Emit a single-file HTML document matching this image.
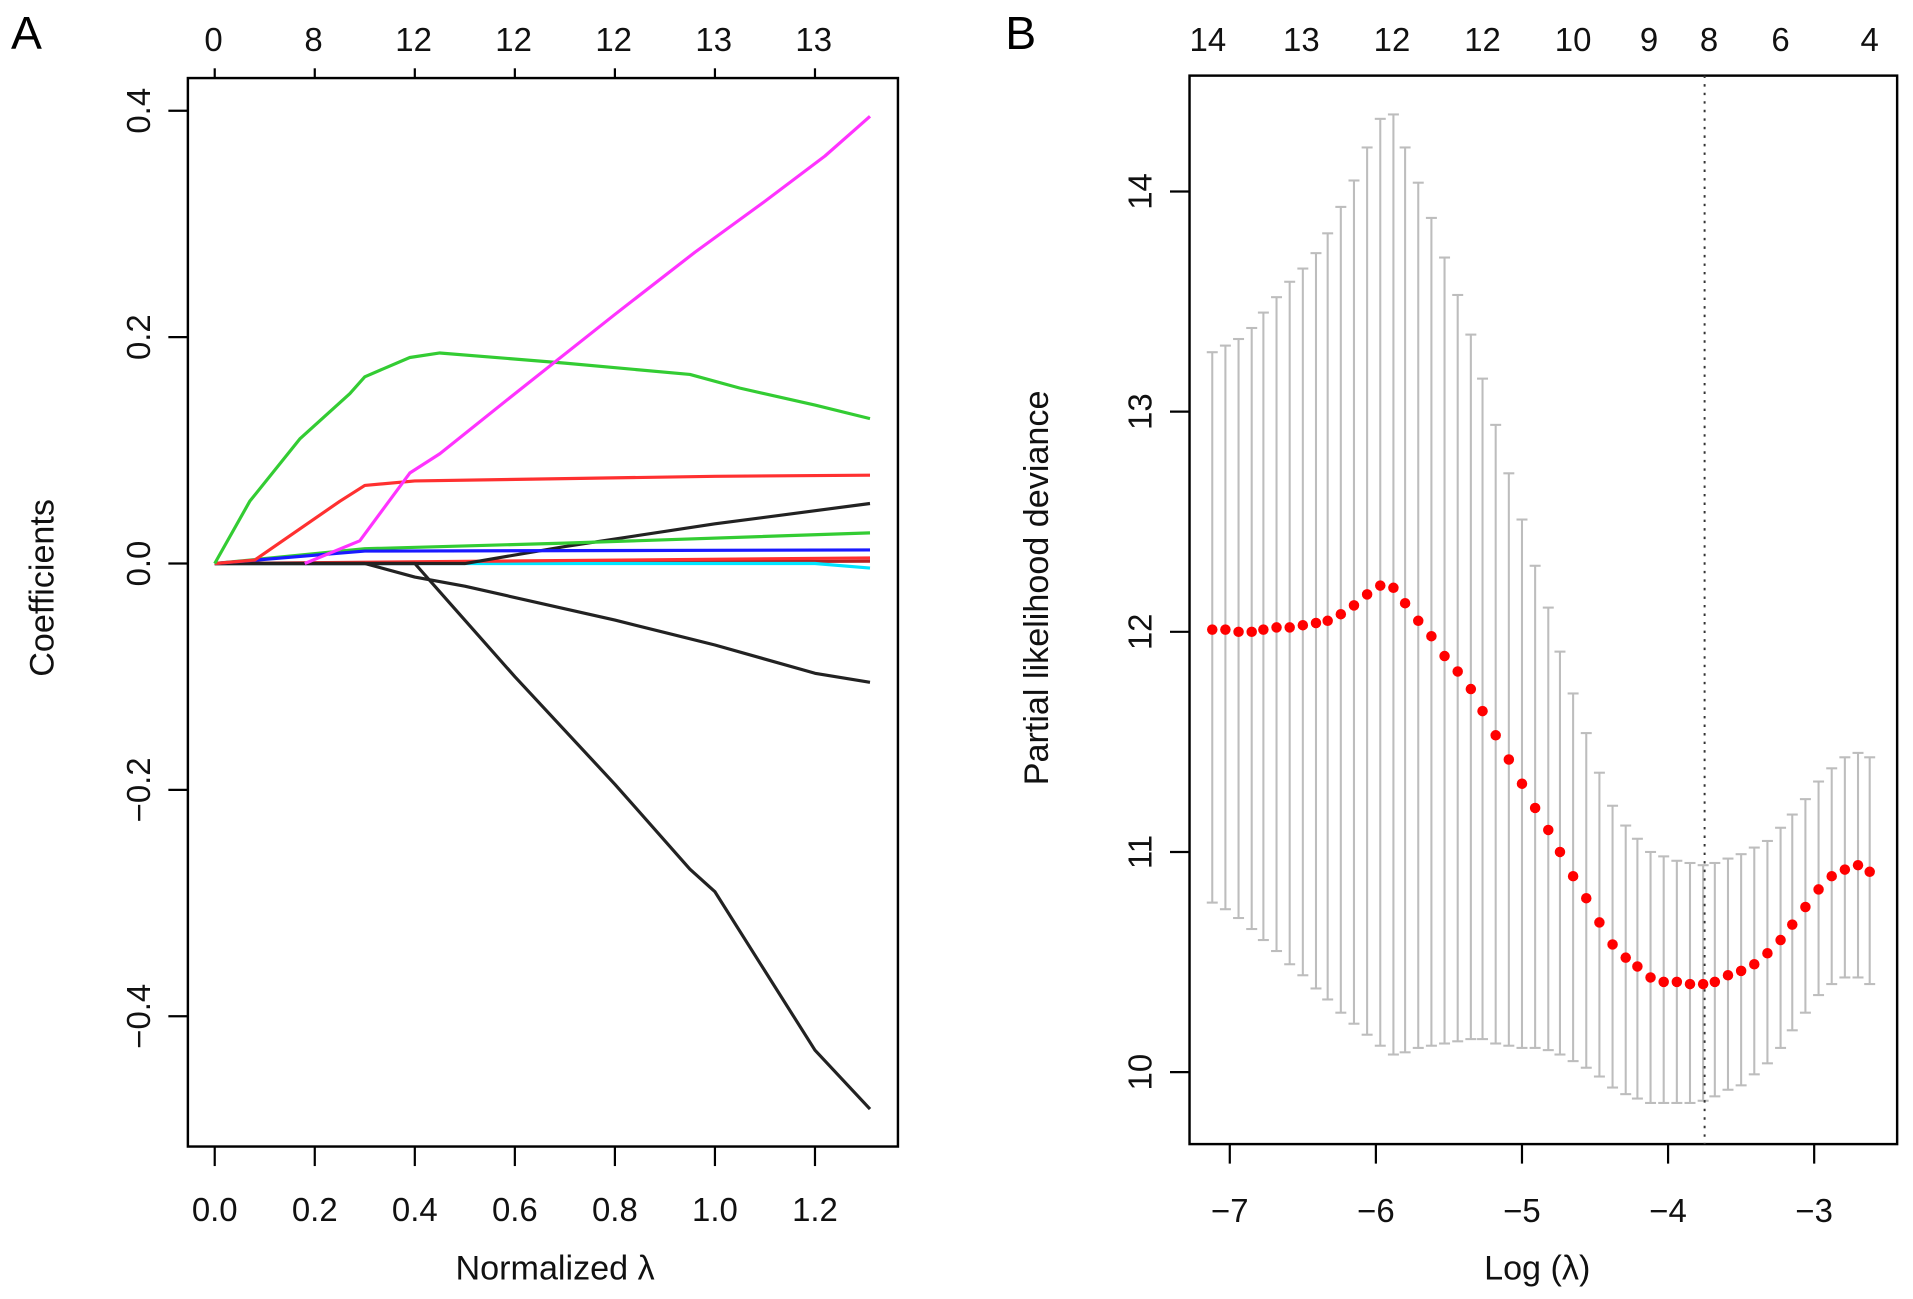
<!DOCTYPE html>
<html><head><meta charset="utf-8"><style>
html,body{margin:0;padding:0;background:#fff;}
svg{display:block;font-family:"Liberation Sans",Arial,sans-serif;}
</style></head><body>
<svg id="fig" width="1913" height="1299" viewBox="0 0 1568 1065" preserveAspectRatio="none" xmlns="http://www.w3.org/2000/svg">
<rect width="1568" height="1065" fill="#fff"/>
<g id="pa"></g>
<g id="pb"></g>
</svg>
<script>
// ---------- Panel A data ----------
const aXTicks = [0, 0.2, 0.4, 0.6, 0.8, 1.0, 1.2];
const aXTickLabels = ["0.0","0.2","0.4","0.6","0.8","1.0","1.2"];
const aTopLabels = ["0","8","12","12","12","13","13"];
const aYTicks = [0.4, 0.2, 0.0, -0.2, -0.4];
const aYTickLabels = ["0.4","0.2","0.0","\u22120.2","\u22120.4"];
const seriesMagenta = [[0.18,0],[0.29,0.02],[0.39,0.08],[0.45,0.097],[0.6,0.15],[0.8,0.22],[0.96,0.275],[1.1,0.32],[1.22,0.36],[1.31,0.395]];
const seriesGreen1 = [[0,0],[0.07,0.055],[0.17,0.11],[0.27,0.15],[0.3,0.165],[0.39,0.182],[0.45,0.186],[0.7,0.177],[0.95,0.167],[1.05,0.155],[1.2,0.14],[1.31,0.128]];
const seriesRed1 = [[0,0],[0.08,0.003],[0.25,0.055],[0.3,0.069],[0.4,0.073],[0.7,0.075],[1.0,0.077],[1.31,0.078]];
const seriesBlackUp = [[0,0],[0.5,0],[0.7,0.015],[1.0,0.035],[1.31,0.053]];
const seriesGreen2 = [[0,0],[0.3,0.013],[0.7,0.018],[1.31,0.027]];
const seriesBlue = [[0,0],[0.3,0.011],[1.31,0.012]];
const seriesRed2 = [[0,0],[1.31,0.005]];
const seriesDarkRed = [[0,0],[1.31,0.002]];
const seriesCyan = [[0,0],[1.2,0],[1.31,-0.004]];
const seriesBlackDown1 = [[0,0],[0.3,0],[0.4,-0.012],[0.5,-0.02],[0.8,-0.05],[1.0,-0.072],[1.2,-0.097],[1.31,-0.105]];
const seriesBlackDown2 = [[0,0],[0.4,0],[0.47,-0.035],[0.6,-0.1],[0.8,-0.195],[0.95,-0.27],[1.0,-0.29],[1.1,-0.36],[1.2,-0.43],[1.31,-0.482]];

// ---------- Panel B data ----------
const bLogLambda = [-7.12,-7.03,-6.94,-6.85,-6.77,-6.68,-6.59,-6.50,-6.41,-6.33,-6.24,-6.15,-6.06,-5.97,-5.88,-5.80,-5.71,-5.62,-5.53,-5.44,-5.35,-5.27,-5.18,-5.09,-5.00,-4.91,-4.82,-4.74,-4.65,-4.56,-4.47,-4.38,-4.29,-4.21,-4.12,-4.03,-3.94,-3.85,-3.76,-3.68,-3.59,-3.50,-3.41,-3.32,-3.23,-3.15,-3.06,-2.97,-2.88,-2.79,-2.70,-2.62];
const bMean = [12.01,12.01,12.00,12.00,12.01,12.02,12.02,12.03,12.04,12.05,12.08,12.12,12.17,12.21,12.20,12.13,12.05,11.98,11.89,11.82,11.74,11.64,11.53,11.42,11.31,11.20,11.10,11.00,10.89,10.79,10.68,10.58,10.52,10.48,10.43,10.41,10.41,10.40,10.40,10.41,10.44,10.46,10.49,10.54,10.60,10.67,10.75,10.83,10.89,10.92,10.94,10.91];
const bUpper = [13.27,13.30,13.33,13.38,13.45,13.52,13.59,13.65,13.72,13.81,13.93,14.05,14.20,14.33,14.35,14.20,14.04,13.88,13.70,13.53,13.35,13.15,12.94,12.72,12.51,12.30,12.11,11.91,11.72,11.54,11.36,11.21,11.12,11.06,11.00,10.98,10.96,10.95,10.94,10.95,10.97,10.99,11.02,11.05,11.11,11.17,11.24,11.32,11.38,11.43,11.45,11.43];
const bLower = [10.77,10.74,10.70,10.65,10.60,10.55,10.49,10.44,10.38,10.33,10.27,10.22,10.17,10.12,10.08,10.09,10.11,10.12,10.13,10.14,10.15,10.15,10.13,10.12,10.11,10.11,10.10,10.08,10.05,10.02,9.98,9.93,9.90,9.88,9.86,9.86,9.86,9.86,9.87,9.89,9.92,9.94,9.99,10.04,10.11,10.19,10.27,10.35,10.40,10.43,10.43,10.40];
const bXTicks = [-7,-6,-5,-4,-3];
const bXTickLabels = ["\u22127","\u22126","\u22125","\u22124","\u22123"];
const bYTicks = [10,11,12,13,14];
const bYTickLabels = ["10","11","12","13","14"];
const bTopPos = [-7.15,-6.51,-5.89,-5.27,-4.65,-4.13,-3.72,-3.23,-2.62];
const bTopLabels = ["14","13","12","12","10","9","8","6","4"];
const bLambdaMin = -3.75;

const NS="http://www.w3.org/2000/svg";
function mk(parent, tag, attrs, text){
  const e=document.createElementNS(NS,tag);
  for(const k in attrs) e.setAttribute(k,attrs[k]);
  if(text!==undefined) e.textContent=text;
  parent.appendChild(e); return e;
}
const TF=27, AF=28;

// ---------- Panel A ----------
const pa=document.getElementById('pa');
const ax = v => 176 + v*410;
const ay = v => 462 - v*928;
let t;
t=mk(pa,'text',{x:9,y:40,'font-size':38,fill:'#000'},'A');


t=mk(pa,'rect',{x:154,y:64,width:582,height:876,fill:'none',stroke:'#000','stroke-width':2});


aXTicks.forEach((v,i)=>{
  let l=mk(pa,'line',{x1:ax(v),x2:ax(v),y1:940,y2:956,stroke:'#000','stroke-width':1.8});
  
  
  let tx=mk(pa,'text',{x:ax(v),y:1001,'font-size':TF,'text-anchor':'middle',fill:'#111'},aXTickLabels[i]);
  
  
  let l2=mk(pa,'line',{x1:ax(v),x2:ax(v),y1:64,y2:56,stroke:'#000','stroke-width':1.8});
  
  
  let tt=mk(pa,'text',{x:ax(v)-1,y:42,'font-size':TF,'text-anchor':'middle',fill:'#111'},aTopLabels[i]);
  
  
});
aYTicks.forEach((v,i)=>{
  let l=mk(pa,'line',{x1:154,x2:138,y1:ay(v),y2:ay(v),stroke:'#000','stroke-width':1.8});
  
  
  let tx=mk(pa,'text',{x:0,y:0,'font-size':TF,'text-anchor':'middle',fill:'#111',transform:`translate(123,${ay(v)}) rotate(-90)`},aYTickLabels[i]);
  
  
});
t=mk(pa,'text',{x:0,y:0,'font-size':AF,'text-anchor':'middle',fill:'#111',transform:'translate(44,482) rotate(-90)'},'Coefficients');


t=mk(pa,'text',{x:455,y:1049,'font-size':AF,'text-anchor':'middle',fill:'#111'},'Normalized \u03bb');


const aSeries=[
 [seriesDarkRed,'#b22222','coef-line-darkred'],
 [seriesCyan,'#00e5ff','coef-line-cyan'],
 [seriesRed2,'#ff3030','coef-line-red-2'],
 [seriesBlackDown1,'#222','coef-line-black-down-1'],
 [seriesBlackDown2,'#222','coef-line-black-down-2'],
 [seriesBlackUp,'#222','coef-line-black-up'],
 [seriesGreen2,'#33cc33','coef-line-green-2'],
 [seriesBlue,'#1a1aff','coef-line-blue'],
 [seriesRed1,'#ff3030','coef-line-red-1'],
 [seriesGreen1,'#33cc33','coef-line-green-1'],
 [seriesMagenta,'#ff33ff','coef-line-magenta']
];
aSeries.forEach(s=>{
  const d=s[0].map((p,i)=>(i?'L':'M')+ax(p[0]).toFixed(1)+','+ay(p[1]).toFixed(1)).join(' ');
  const p=mk(pa,'path',{d:d,fill:'none',stroke:s[1],'stroke-width':2.6,'stroke-linejoin':'round'});
  
  
});

// ---------- Panel B ----------
const pb=document.getElementById('pb');
const bx = v => 1008 + (v+7)*119.75;
const by = v => 879 - (v-10)*180.5;
t=mk(pb,'text',{x:824,y:40,'font-size':38,fill:'#000'},'B');


t=mk(pb,'rect',{x:975,y:62,width:580,height:876,fill:'none',stroke:'#000','stroke-width':2});


bXTicks.forEach((v,i)=>{
  let l=mk(pb,'line',{x1:bx(v),x2:bx(v),y1:938,y2:954,stroke:'#000','stroke-width':1.8});
  
  
  let tx=mk(pb,'text',{x:bx(v),y:1002,'font-size':TF,'text-anchor':'middle',fill:'#111'},bXTickLabels[i]);
  
  
});
bTopPos.forEach((v,i)=>{
  let tt=mk(pb,'text',{x:bx(v),y:42,'font-size':TF,'text-anchor':'middle',fill:'#111'},bTopLabels[i]);
  
  
});
bYTicks.forEach((v,i)=>{
  let l=mk(pb,'line',{x1:975,x2:959,y1:by(v),y2:by(v),stroke:'#000','stroke-width':1.8});
  
  
  let tx=mk(pb,'text',{x:0,y:0,'font-size':TF,'text-anchor':'middle',fill:'#111',transform:`translate(944,${by(v)}) rotate(-90)`},bYTickLabels[i]);
  
  
});
t=mk(pb,'text',{x:0,y:0,'font-size':AF,'text-anchor':'middle',fill:'#111',transform:'translate(859,482) rotate(-90)'},'Partial likelihood deviance');


t=mk(pb,'text',{x:1260,y:1049,'font-size':AF,'text-anchor':'middle',fill:'#111'},'Log (\u03bb)');


bLogLambda.forEach((v,i)=>{
  const x=bx(v);
  let e=mk(pb,'line',{x1:x,x2:x,y1:by(bUpper[i]),y2:by(bLower[i]),stroke:'#bdbdbd','stroke-width':1.7});
  
  
  let c1=mk(pb,'line',{x1:x-4.5,x2:x+4.5,y1:by(bUpper[i]),y2:by(bUpper[i]),stroke:'#bdbdbd','stroke-width':1.7});
  
  
  let c2=mk(pb,'line',{x1:x-4.5,x2:x+4.5,y1:by(bLower[i]),y2:by(bLower[i]),stroke:'#bdbdbd','stroke-width':1.7});
  
  
});
t=mk(pb,'line',{x1:bx(bLambdaMin),x2:bx(bLambdaMin),y1:62,y2:938,stroke:'#333','stroke-width':1.6,'stroke-dasharray':'2,5'});


bLogLambda.forEach((v,i)=>{
  let c=mk(pb,'circle',{cx:bx(v),cy:by(bMean[i]),r:4.3,fill:'#ff0000'});
  
  
});
</script>
</body></html>
